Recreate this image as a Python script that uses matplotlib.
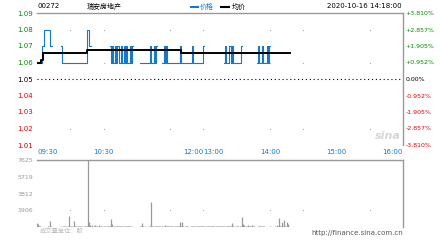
import numpy as np
import matplotlib
matplotlib.use("Agg")
import matplotlib.pyplot as plt
from matplotlib.lines import Line2D

plt.rcParams['font.family'] = ['DejaVu Sans', 'Noto Sans CJK SC']

# ---- data (one entry per trading minute, 09:30 -> 14:18) ----
nan = np.nan
# price runs: (price, number of minutes); nan = no blue line drawn
price_runs = [
    (1.06, 5), (1.07, 2), (1.08, 5), (1.07, 2), (nan, 8), (1.07, 1), (1.06, 23),
    (1.08, 1), (1.07, 2), (nan, 17),
    (1.07, 1), (1.06, 1), (1.07, 1), (1.06, 2), (1.07, 1), (1.06, 1), (1.07, 1),
    (1.06, 2), (1.07, 1), (1.06, 2), (1.07, 1), (1.06, 1), (1.07, 1), (1.06, 2),
    (1.07, 1), (1.06, 1), (1.07, 1), (nan, 6),
    (1.06, 9), (1.07, 1), (1.06, 3), (1.07, 1), (1.06, 1), (1.07, 1), (nan, 4),
    (1.06, 2), (1.07, 1), (1.06, 1), (1.07, 1), (1.06, 11), (1.07, 1), (1.06, 10),
    (1.07, 1), (1.06, 9), (1.07, 1), (nan, 18),
    (1.06, 1), (1.07, 1), (1.06, 3), (1.07, 1), (1.06, 1), (1.07, 1), (1.06, 7),
    (1.07, 1), (nan, 14),
    (1.06, 1), (1.07, 1), (1.06, 2), (1.07, 1), (1.06, 4), (1.07, 1), (1.06, 1),
    (1.07, 1), (nan, 18),
]
# average price runs
avg_runs = [(1.060, 4), (1.0615, 2), (1.0660, 22), (1.0655, 18), (1.0675, 84), (1.0660, 99)]

volume = [
    450, 320, 150, 120, 0, 0, 0, 0, 0, 0,
    120, 150, 650, 150, 0, 0, 0, 0, 0, 0,
    0, 0, 120, 100, 100, 100, 100, 0, 100, 1250,
    150, 100, 100, 690, 100, 100, 100, 100, 100, 100,
    100, 100, 100, 100, 100, 100, 7625, 570, 200, 0,
    200, 150, 200, 150, 100, 0, 200, 150, 100, 100,
    150, 100, 0, 100, 100, 150, 150, 950, 300, 150,
    150, 100, 100, 150, 100, 100, 150, 100, 100, 100,
    100, 150, 100, 100, 100, 0, 100, 0, 0, 0,
    0, 0, 0, 100, 150, 460, 100, 100, 0, 0,
    0, 100, 100, 2850, 100, 100, 150, 100, 100, 100,
    100, 100, 0, 100, 150, 270, 100, 100, 100, 100,
    100, 100, 150, 100, 100, 100, 100, 100, 150, 570,
    150, 570, 150, 100, 100, 100, 100, 0, 0, 100,
    150, 100, 100, 100, 100, 100, 100, 100, 100, 100,
    150, 100, 100, 150, 100, 100, 150, 100, 100, 150,
    100, 100, 150, 100, 100, 150, 100, 100, 150, 100,
    150, 100, 100, 100, 150, 100, 450, 100, 100, 100,
    100, 100, 0, 100, 150, 1140, 300, 200, 150, 100,
    200, 100, 150, 100, 200, 100, 100, 0, 0, 100,
    150, 100, 100, 150, 100, 100, 0, 0, 0, 0,
    100, 0, 0, 0, 0, 100, 230, 100, 1030, 100,
    100, 570, 100, 760, 100, 570, 300, 100, 0,
]

prev_close = 1.05
price_ticks = [1.09, 1.08, 1.07, 1.06, 1.05, 1.04, 1.03, 1.02, 1.01]
vol_ticks = [7625, 5719, 3812, 1906]
time_labels = ['09:30', '10:30', '12:00', '13:00', '14:00', '15:00', '16:00']
time_pos = [0, 60, 150, 150, 210, 270, 330]
time_ha = ['left', 'center', 'right', 'left', 'center', 'center', 'right']
grid_minutes = [30, 60, 120, 150, 210, 240, 300]

price = np.concatenate([np.full(n, p) for p, n in price_runs])
avg = np.concatenate([np.full(n, p) for p, n in avg_runs])
minutes = np.arange(len(volume))

W, H = 440, 240
BLUE = '#1379c8'
GREEN = '#008800'
RED = '#e00000'
GREY = '#999999'


def px_rect(left, top, right, bottom):
    return [left / W, 1 - bottom / H, (right - left) / W, (bottom - top) / H]


def tick_color(t):
    if t > prev_close + 1e-9:
        return GREEN
    if t < prev_close - 1e-9:
        return RED
    return 'black'


fig = plt.figure(figsize=(W / 100, H / 100), dpi=100)
fig.patch.set_facecolor('white')

# ---- price panel ----
ax = fig.add_axes(px_rect(37, 13, 403, 145))
ax.set_xlim(0, 330)
ax.set_ylim(1.01, 1.09)
for s in ['left', 'bottom']:
    ax.spines[s].set_visible(False)
for s in ['top', 'right']:
    ax.spines[s].set_color(GREY)
    ax.spines[s].set_linewidth(1)

ax.axhline(prev_close, color='black', lw=0.8, ls=(0, (1, 2.5)))
for gx in grid_minutes:
    ax.plot([gx] * 3, [1.08, 1.06, 1.02], ls='none', marker='s', ms=0.8, color='#aaaaaa', mew=0)

ax.plot(minutes[:len(price)], price, color=BLUE, lw=0.8, drawstyle='steps-mid')
ax.plot(minutes[:len(avg)], avg, color='black', lw=1.4, drawstyle='steps-mid')

ax.set_xticks([])
ax.set_yticks(price_ticks)
ax.set_yticklabels([f'{t:.2f}' for t in price_ticks])
ax.tick_params(axis='y', length=0, pad=3, labelsize=5)
for lab, t in zip(ax.get_yticklabels(), price_ticks):
    lab.set_color(tick_color(t))

ax2 = ax.twinx()
ax2.set_ylim(1.01, 1.09)
for s in ['left', 'bottom', 'top', 'right']:
    ax2.spines[s].set_visible(False)
ax2.set_yticks(price_ticks)
pct = []
for t in price_ticks:
    v = (t - prev_close) / prev_close * 100
    pct.append('0.00%' if abs(v) < 1e-9 else f'{v:+.3f}%')
ax2.set_yticklabels(pct)
ax2.tick_params(axis='y', length=0, pad=2, labelsize=4.5)
for lab, t in zip(ax2.get_yticklabels(), price_ticks):
    lab.set_color(tick_color(t))

# time labels between the panels
for lab, pos, ha in zip(time_labels, time_pos, time_ha):
    ax.text(pos, -7.0 / 132, lab, transform=ax.get_xaxis_transform(), ha=ha, va='center',
            fontsize=5, color=BLUE)

# sina watermark
ax.text(0.995, 0.03, 'sina', transform=ax.transAxes, ha='right', va='bottom',
        fontsize=8, fontstyle='italic', fontweight='bold', color='#d6d6d6')

# ---- volume panel ----
vx = fig.add_axes(px_rect(37, 160, 403, 227))
vx.set_xlim(0, 330)
vx.set_ylim(0, vol_ticks[0])
for s in ['left', 'bottom']:
    vx.spines[s].set_visible(False)
for s in ['top', 'right']:
    vx.spines[s].set_color(GREY)
    vx.spines[s].set_linewidth(1)
vx.vlines(minutes, 0, volume, color=GREY, lw=0.9)
for gx in grid_minutes:
    vx.plot([gx], [vol_ticks[-1]], ls='none', marker='s', ms=0.8, color='#aaaaaa', mew=0)
vx.set_xticks([])
vx.set_yticks(vol_ticks)
vx.set_yticklabels([str(v) for v in vol_ticks])
vx.tick_params(axis='y', length=0, pad=3, labelsize=4.5, labelcolor=GREY)

# ---- header / footer ----
fig.text(37 / W, 1 - 6 / H, '00272', fontsize=5, va='center', ha='left')
fig.text(87 / W, 1 - 6 / H, '瑞安房地产', fontsize=5, va='center', ha='left')
fig.add_artist(Line2D([191 / W, 198 / W], [1 - 7 / H] * 2, color=BLUE, lw=1.5))
fig.text(200 / W, 1 - 6 / H, '价格', fontsize=5, va='center', ha='left', color=BLUE)
fig.add_artist(Line2D([221 / W, 229 / W], [1 - 7 / H] * 2, color='black', lw=1.5))
fig.text(232 / W, 1 - 6 / H, '均价', fontsize=5, va='center', ha='left')
fig.text(402 / W, 1 - 6 / H, '2020-10-16 14:18:00', fontsize=5, va='center', ha='right')

fig.text(40 / W, 1 - 232 / H, '成交量单位：股', fontsize=4.5, va='center', ha='left', color='#bbbbbb')
fig.text(403 / W, 1 - 233 / H, 'http://finance.sina.com.cn', fontsize=5, va='center', ha='right',
         color='#555555')

fig.savefig('out.png', dpi=100)
